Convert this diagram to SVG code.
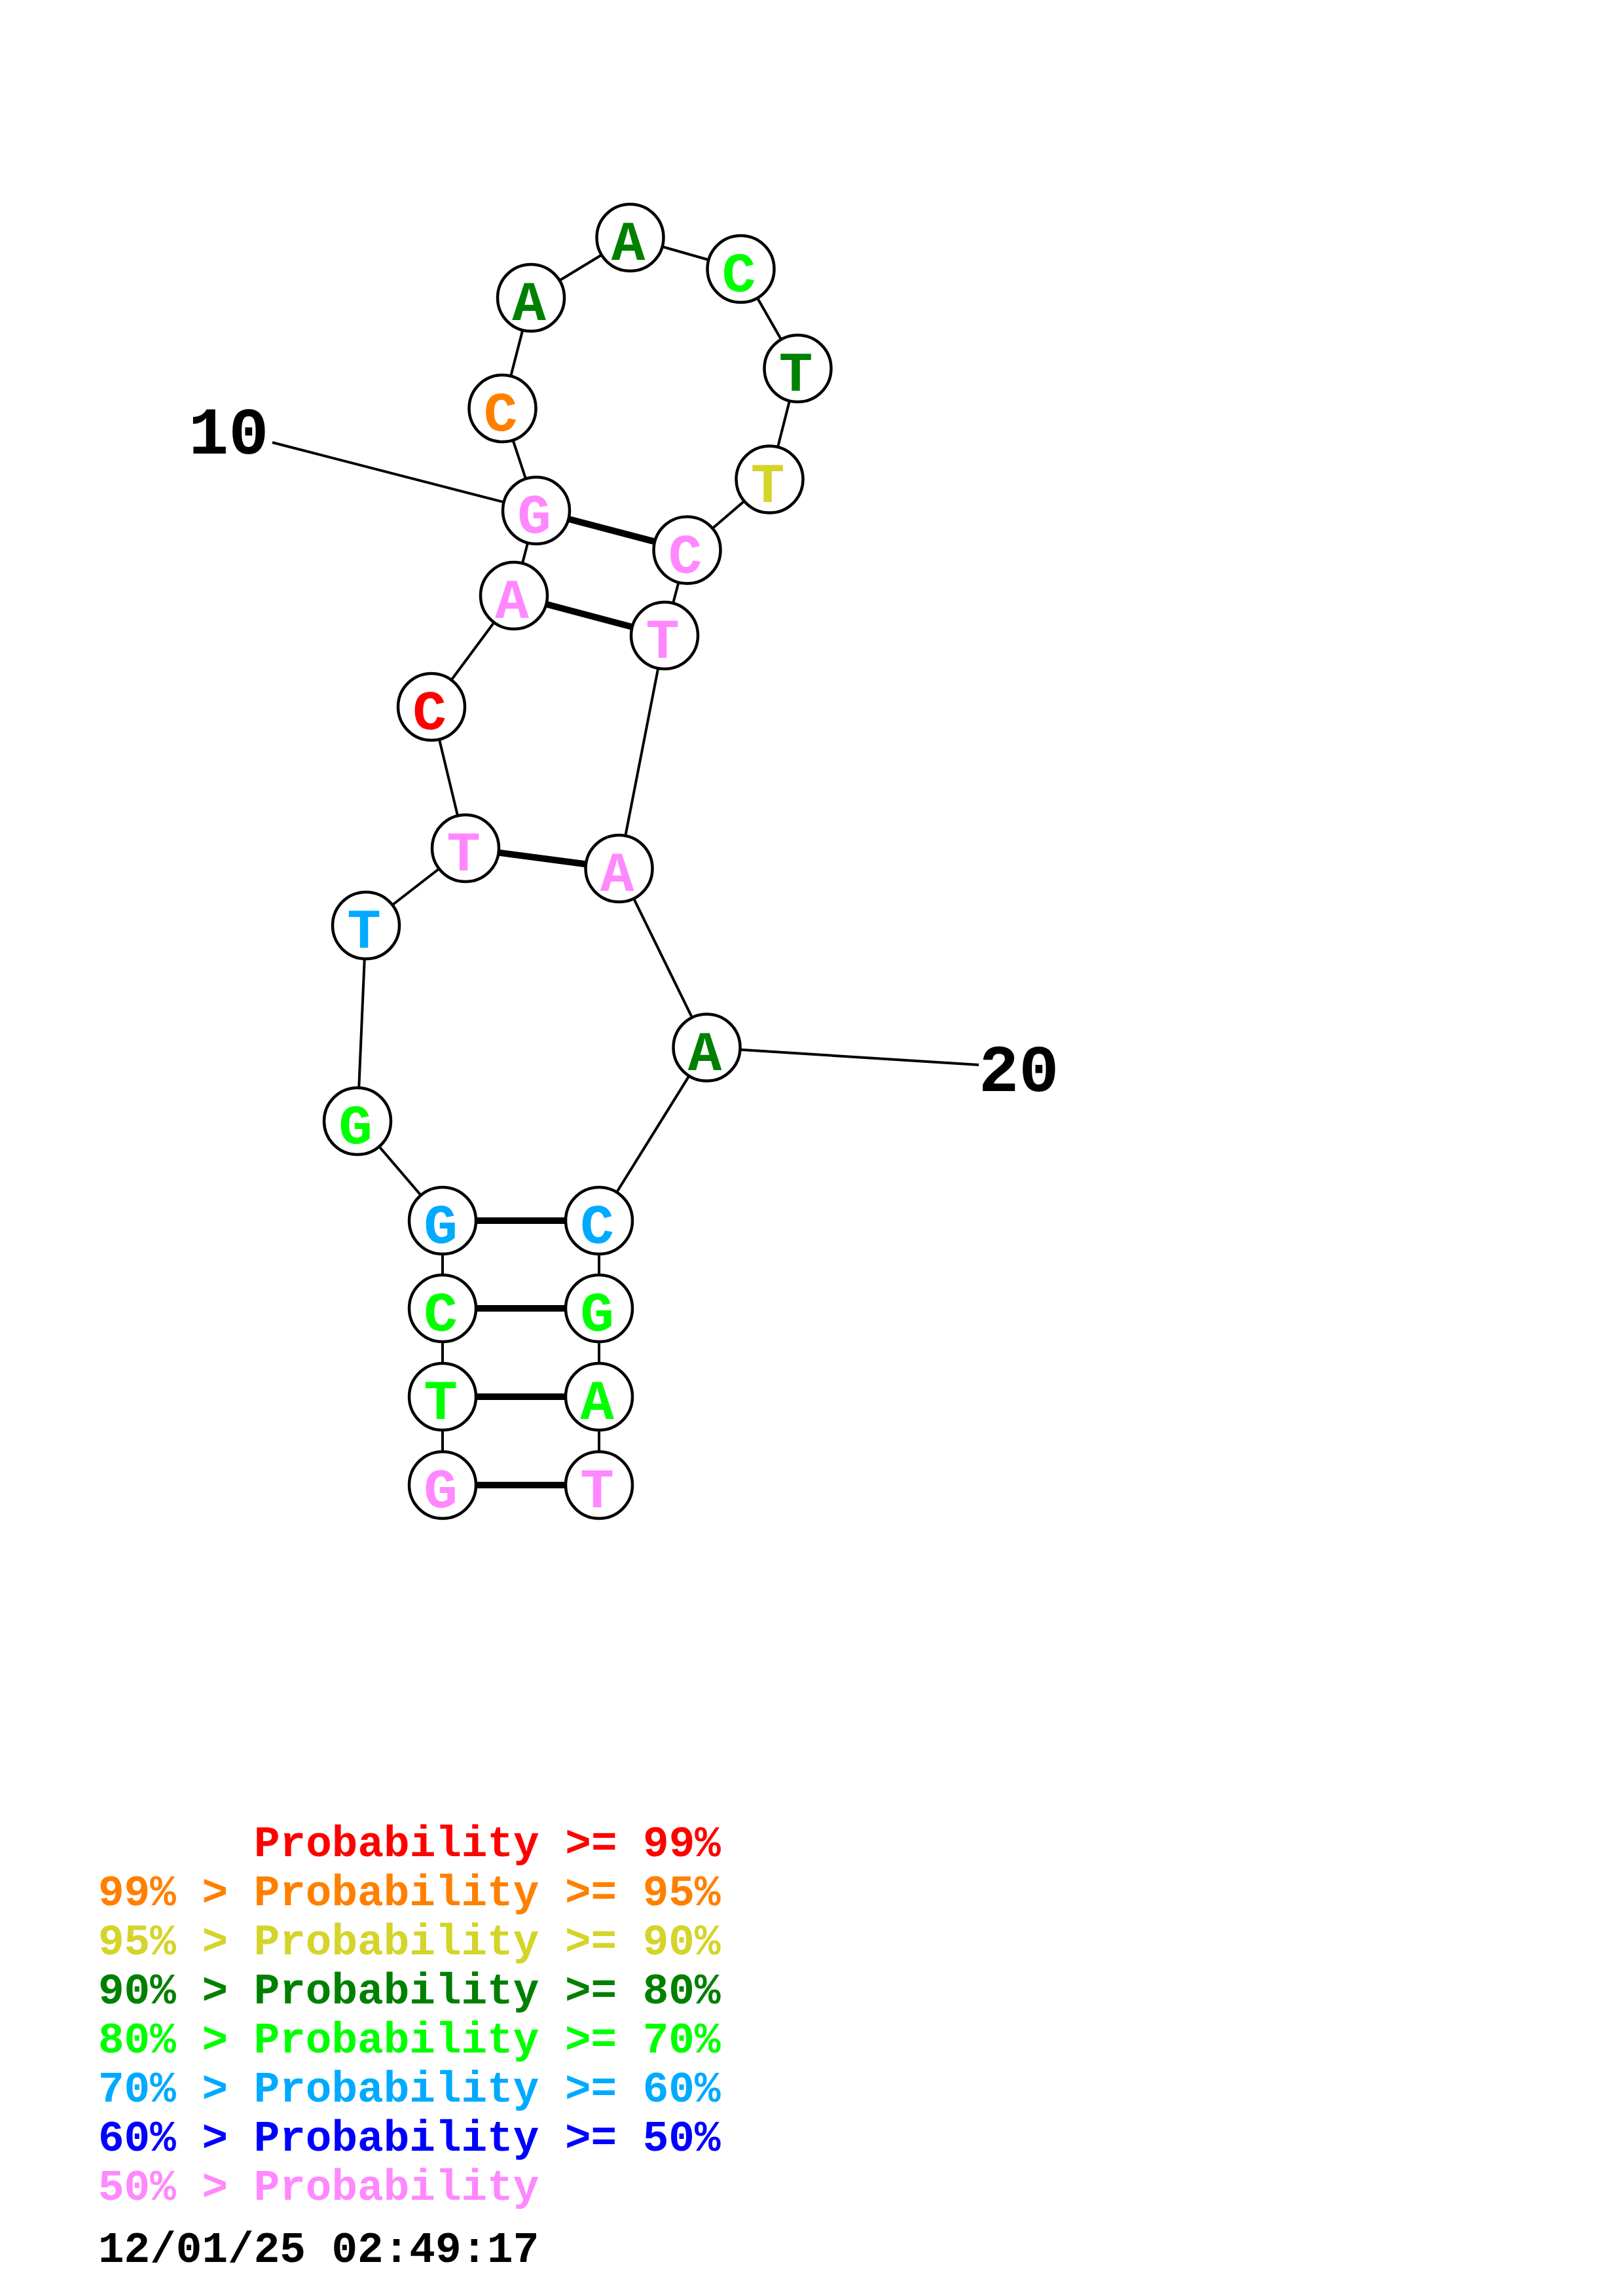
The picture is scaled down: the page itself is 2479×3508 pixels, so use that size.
<svg xmlns="http://www.w3.org/2000/svg" width="2479" height="3508" viewBox="0 0 2479 3508">
<style>
.bb{stroke:#000;stroke-width:4;fill:none}
.bp{stroke:#000;stroke-width:10;fill:none}
.nc{fill:#fff;stroke:#000;stroke-width:4.5}
.nt{font-family:"Liberation Mono","DejaVu Sans Mono",monospace;font-weight:bold;font-size:86px;text-anchor:middle}
.lb{font-family:"Liberation Mono","DejaVu Sans Mono",monospace;font-weight:bold;font-size:102px;fill:#000}
.lg{font-family:"Liberation Mono","DejaVu Sans Mono",monospace;font-weight:bold;font-size:66px}
.pk{fill:#FF88FF}.lm{fill:#00FF00}.cy{fill:#00AAFF}.rd{fill:#FF0000}.or{fill:#FF8000}.dg{fill:#008000}.yl{fill:#D4D42A}.bl{fill:#0000FF}
</style>
<rect width="2479" height="3508" fill="#fff"/>
<g id="connectors">
<line class="bb" x1="416" y1="676" x2="819" y2="780"/>
<line class="bb" x1="1495" y1="1627" x2="1079.5" y2="1600.5"/>
<polyline class="bb" points="676,2269 676,2134 676,1999 676,1865 546,1713 559,1414 711,1296 659,1080 785,910 819,780 767.5,624 811,455 962.5,363 1131.5,411 1218.5,563 1175.5,732.5 1049.5,840.5 1015,971 945.5,1327 1079.5,1600.5 915,1865 915,1999 915,2134 915,2269"/>
<line class="bp" x1="819" y1="780" x2="1049.5" y2="840.5"/>
<line class="bp" x1="785" y1="910" x2="1015" y2="971"/>
<line class="bp" x1="711" y1="1296" x2="945.5" y2="1327"/>
<line class="bp" x1="676" y1="1865" x2="915" y2="1865"/>
<line class="bp" x1="676" y1="1999" x2="915" y2="1999"/>
<line class="bp" x1="676" y1="2134" x2="915" y2="2134"/>
<line class="bp" x1="676" y1="2269" x2="915" y2="2269"/>
</g>
<g id="n1"><circle class="nc" cx="676" cy="2269" r="51"/><text class="nt pk" x="673" y="2303">G</text></g>
<g id="n2"><circle class="nc" cx="676" cy="2134" r="51"/><text class="nt lm" x="673" y="2168">T</text></g>
<g id="n3"><circle class="nc" cx="676" cy="1999" r="51"/><text class="nt lm" x="673" y="2033">C</text></g>
<g id="n4"><circle class="nc" cx="676" cy="1865" r="51"/><text class="nt cy" x="673" y="1899">G</text></g>
<g id="n5"><circle class="nc" cx="546" cy="1713" r="51"/><text class="nt lm" x="543" y="1747">G</text></g>
<g id="n6"><circle class="nc" cx="559" cy="1414" r="51"/><text class="nt cy" x="556" y="1448">T</text></g>
<g id="n7"><circle class="nc" cx="711" cy="1296" r="51"/><text class="nt pk" x="708" y="1330">T</text></g>
<g id="n8"><circle class="nc" cx="659" cy="1080" r="51"/><text class="nt rd" x="656" y="1114">C</text></g>
<g id="n9"><circle class="nc" cx="785" cy="910" r="51"/><text class="nt pk" x="782" y="944">A</text></g>
<g id="n10"><circle class="nc" cx="819" cy="780" r="51"/><text class="nt pk" x="816" y="814">G</text></g>
<g id="n11"><circle class="nc" cx="767.5" cy="624" r="51"/><text class="nt or" x="764.5" y="658">C</text></g>
<g id="n12"><circle class="nc" cx="811" cy="455" r="51"/><text class="nt dg" x="808" y="489">A</text></g>
<g id="n13"><circle class="nc" cx="962.5" cy="363" r="51"/><text class="nt dg" x="959.5" y="397">A</text></g>
<g id="n14"><circle class="nc" cx="1131.5" cy="411" r="51"/><text class="nt lm" x="1128.5" y="445">C</text></g>
<g id="n15"><circle class="nc" cx="1218.5" cy="563" r="51"/><text class="nt dg" x="1215.5" y="597">T</text></g>
<g id="n16"><circle class="nc" cx="1175.5" cy="732.5" r="51"/><text class="nt yl" x="1172.5" y="766.5">T</text></g>
<g id="n17"><circle class="nc" cx="1049.5" cy="840.5" r="51"/><text class="nt pk" x="1046.5" y="874.5">C</text></g>
<g id="n18"><circle class="nc" cx="1015" cy="971" r="51"/><text class="nt pk" x="1012" y="1005">T</text></g>
<g id="n19"><circle class="nc" cx="945.5" cy="1327" r="51"/><text class="nt pk" x="942.5" y="1361">A</text></g>
<g id="n20"><circle class="nc" cx="1079.5" cy="1600.5" r="51"/><text class="nt dg" x="1076.5" y="1634.5">A</text></g>
<g id="n21"><circle class="nc" cx="915" cy="1865" r="51"/><text class="nt cy" x="912" y="1899">C</text></g>
<g id="n22"><circle class="nc" cx="915" cy="1999" r="51"/><text class="nt lm" x="912" y="2033">G</text></g>
<g id="n23"><circle class="nc" cx="915" cy="2134" r="51"/><text class="nt lm" x="912" y="2168">A</text></g>
<g id="n24"><circle class="nc" cx="915" cy="2269" r="51"/><text class="nt pk" x="912" y="2303">T</text></g>
<g id="labels">
<text class="lb" x="288" y="693">10</text>
<text class="lb" x="1495" y="1667">20</text>
</g>
<g id="legend">
<text class="lg rd" x="388" y="2836">Probability &gt;= 99%</text>
<text class="lg or" x="150" y="2911">99% &gt; Probability &gt;= 95%</text>
<text class="lg yl" x="150" y="2986">95% &gt; Probability &gt;= 90%</text>
<text class="lg dg" x="150" y="3061">90% &gt; Probability &gt;= 80%</text>
<text class="lg lm" x="150" y="3136">80% &gt; Probability &gt;= 70%</text>
<text class="lg cy" x="150" y="3211">70% &gt; Probability &gt;= 60%</text>
<text class="lg bl" x="150" y="3286">60% &gt; Probability &gt;= 50%</text>
<text class="lg pk" x="150" y="3361">50% &gt; Probability</text>
<text class="lg" x="150" y="3456" fill="#000">12/01/25 02:49:17</text>
</g>
</svg>
